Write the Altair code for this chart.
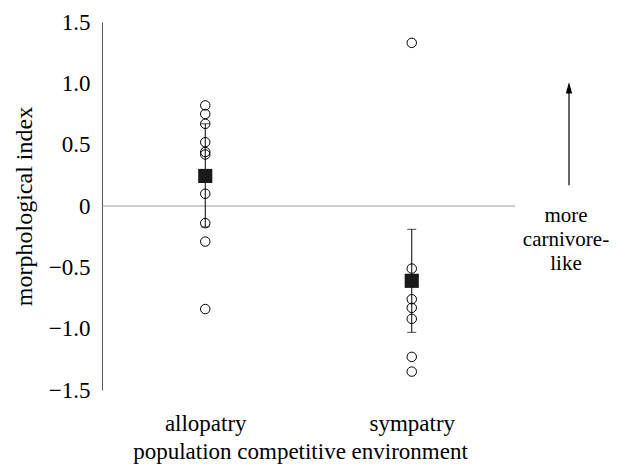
import altair as alt
import pandas as pd

# data
allo_vals = [0.82, 0.75, 0.67, 0.52, 0.44, 0.42, 0.10, -0.14, -0.29, -0.84]
symp_vals = [1.33, -0.51, -0.76, -0.83, -0.92, -1.23, -1.35]
groups = ["allopatry", "sympatry"]
means = [0.245, -0.61]
err_lo = [-0.17, -1.03]
err_hi = [0.67, -0.19]

pts = pd.DataFrame({
    "env": ["allopatry"] * len(allo_vals) + ["sympatry"] * len(symp_vals),
    "val": allo_vals + symp_vals,
})
summ = pd.DataFrame({"env": groups, "mean": means, "lo": err_lo, "hi": err_hi})

FONT = "Liberation Serif"
FS = 23

xenc = alt.X("env:N", scale=alt.Scale(type="point", padding=0.5, domain=groups),
             axis=alt.Axis(title="population competitive environment", domain=False, ticks=False,
                           labelAngle=0, labelPadding=22, titleX=198, titleY=73,
                           titleBaseline="bottom",
                           labelFont=FONT, titleFont=FONT, labelFontSize=FS, titleFontSize=FS,
                           titleFontWeight="normal", labelColor="black", titleColor="black"))
yscale = alt.Scale(domain=[-1.5, 1.5], nice=False)
yaxis = alt.Axis(title="morphological index", values=[-1.5, -1.0, -0.5, 0, 0.5, 1.0, 1.5],
                 labelExpr="datum.value == 0 ? '0' : replace(format(datum.value, '.1f'), '-', '\u2013')",
                 ticks=False, grid=False, domainColor="#555555", labelPadding=12, titlePadding=12,
                 labelFont=FONT, titleFont=FONT, labelFontSize=FS, titleFontSize=24,
                 titleFontWeight="normal", labelColor="black", titleColor="black")

zero = alt.Chart(pd.DataFrame({"z": [0]})).mark_rule(color="#9a9a9a", strokeWidth=1.2).encode(
    y=alt.Y("z:Q", scale=yscale, axis=yaxis))

rules = alt.Chart(summ).mark_rule(color="black", strokeWidth=1).encode(
    x=xenc, y=alt.Y("lo:Q", scale=yscale), y2="hi:Q")
cap_lo = alt.Chart(summ).mark_tick(color="black", size=9, thickness=1, orient="horizontal").encode(
    x=xenc, y=alt.Y("lo:Q", scale=yscale))
cap_hi = alt.Chart(summ).mark_tick(color="black", size=9, thickness=1, orient="horizontal").encode(
    x=xenc, y=alt.Y("hi:Q", scale=yscale))

circles = alt.Chart(pts).mark_point(shape="circle", filled=False, color="black", size=90,
                                    strokeWidth=1, opacity=1).encode(
    x=xenc, y=alt.Y("val:Q", scale=yscale))

squares = alt.Chart(summ).mark_point(shape="square", filled=True, color="#1a1a1a", size=200,
                                     opacity=1).encode(
    x=xenc, y=alt.Y("mean:Q", scale=yscale))

# annotation arrow and text (outside the plot, right side)
ANN_X = 467
arrow_df = pd.DataFrame({"y0": [0.17], "y1": [0.93], "tip": [0.96]})
arrow = alt.Chart(arrow_df).mark_rule(color="black", strokeWidth=1.2).encode(
    x=alt.value(ANN_X), y=alt.Y("y0:Q", scale=yscale), y2="y1:Q")
head = alt.Chart(arrow_df).mark_point(shape="M-0.6,1L0,-1.2L0.6,1Z", filled=True, color="black",
                                      size=110, opacity=1).encode(
    x=alt.value(ANN_X), y=alt.Y("tip:Q", scale=yscale))
ann_df = pd.DataFrame({"t": ["more", "carnivore-", "like"], "yy": [-0.08, -0.28, -0.47]})
ann = alt.Chart(ann_df).mark_text(font=FONT, fontSize=21, color="black", align="center",
                                  baseline="middle").encode(
    x=alt.value(ANN_X - 3), y=alt.Y("yy:Q", scale=yscale), text="t:N")

chart = alt.layer(zero, rules, cap_lo, cap_hi, circles, squares, arrow, head, ann).properties(
    width=413, height=368,
    autosize=alt.AutoSizeParams(type="none"),
    padding={"left": 94, "top": 14, "right": 96, "bottom": 74},
).configure_view(stroke=None).configure_axis(grid=False)

chart.save("out.html", embed_options={"renderer": "svg", "actions": False})
